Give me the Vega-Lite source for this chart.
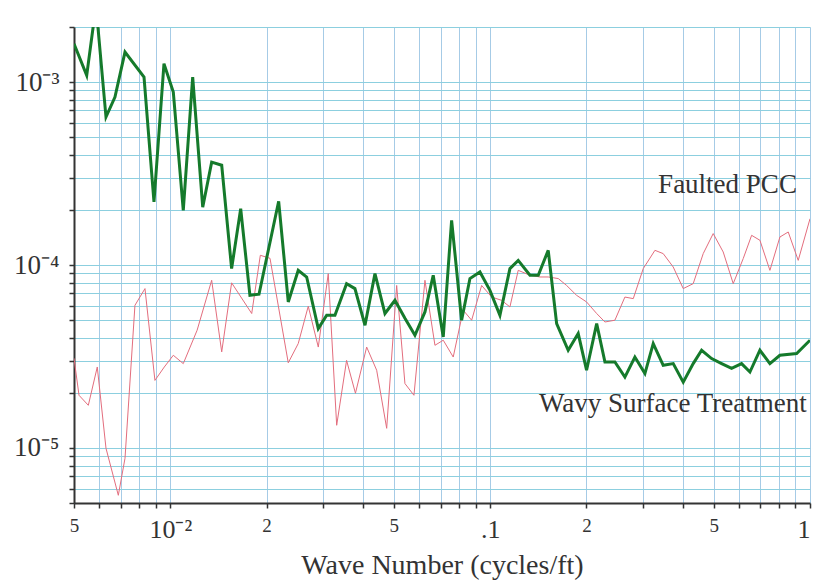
{
  "$schema": "https://vega.github.io/schema/vega-lite/v6.json",
  "width": 736,
  "height": 476,
  "autosize": {"type": "none"},
  "padding": {"left": 74, "top": 27, "right": 4, "bottom": 78},
  "background": "white",
  "config": {
    "view": {"stroke": null},
    "font": "Liberation Serif"
  },
  "datasets": {
    "pcc": [
      {"k": 0.005, "v": 3.09e-5}, {"k": 0.005184, "v": 1.94e-5}, {"k": 0.005543, "v": 1.71e-5}, {"k": 0.005912, "v": 2.77e-5},
      {"k": 0.006295, "v": 9.96e-6}, {"k": 0.006879, "v": 5.51e-6}, {"k": 0.007218, "v": 8.78e-6}, {"k": 0.007754, "v": 6.02e-5},
      {"k": 0.008334, "v": 7.43e-5}, {"k": 0.008953, "v": 2.34e-5}, {"k": 0.009578, "v": 2.77e-5}, {"k": 0.01022, "v": 3.21e-5},
      {"k": 0.01098, "v": 2.89e-5}, {"k": 0.01213, "v": 4.40e-5}, {"k": 0.01347, "v": 8.25e-5}, {"k": 0.01448, "v": 3.35e-5},
      {"k": 0.01555, "v": 7.99e-5}, {"k": 0.01797, "v": 5.43e-5}, {"k": 0.01912, "v": 1.13e-4}, {"k": 0.0205, "v": 1.088e-4},
      {"k": 0.02338, "v": 2.92e-5}, {"k": 0.02512, "v": 3.72e-5}, {"k": 0.027, "v": 5.95e-5}, {"k": 0.02902, "v": 3.56e-5},
      {"k": 0.03118, "v": 8.97e-5}, {"k": 0.03313, "v": 1.33e-5}, {"k": 0.03558, "v": 3.01e-5}, {"k": 0.03792, "v": 1.99e-5},
      {"k": 0.04111, "v": 3.56e-5}, {"k": 0.04418, "v": 2.66e-5}, {"k": 0.04748, "v": 1.28e-5}, {"k": 0.05102, "v": 7.73e-5},
      {"k": 0.05415, "v": 2.25e-5}, {"k": 0.05778, "v": 1.94e-5}, {"k": 0.06254, "v": 8.25e-5}, {"k": 0.06721, "v": 3.64e-5},
      {"k": 0.07135, "v": 3.88e-5}, {"k": 0.07666, "v": 3.14e-5}, {"k": 0.08237, "v": 5.66e-5}, {"k": 0.08753, "v": 4.99e-5},
      {"k": 0.09406, "v": 7.73e-5}, {"k": 0.1011, "v": 6.68e-5}, {"k": 0.1086, "v": 6.41e-5}, {"k": 0.1153, "v": 5.90e-5},
      {"k": 0.1224, "v": 9.35e-5}, {"k": 0.1332, "v": 8.79e-5}, {"k": 0.1431, "v": 8.60e-5}, {"k": 0.1519, "v": 8.60e-5},
      {"k": 0.1633, "v": 8.43e-5}, {"k": 0.1734, "v": 7.73e-5}, {"k": 0.1863, "v": 6.83e-5}, {"k": 0.2002, "v": 6.28e-5},
      {"k": 0.2153, "v": 5.43e-5}, {"k": 0.2285, "v": 4.88e-5}, {"k": 0.2455, "v": 4.99e-5}, {"k": 0.2638, "v": 6.68e-5},
      {"k": 0.2802, "v": 6.55e-5}, {"k": 0.3011, "v": 9.56e-5}, {"k": 0.3275, "v": 1.203e-4}, {"k": 0.3476, "v": 1.154e-4},
      {"k": 0.3736, "v": 9.75e-5}, {"k": 0.4015, "v": 7.43e-5}, {"k": 0.4314, "v": 7.91e-5}, {"k": 0.4636, "v": 1.154e-4},
      {"k": 0.4982, "v": 1.485e-4}, {"k": 0.5354, "v": 1.178e-4}, {"k": 0.5754, "v": 7.91e-5}, {"k": 0.6183, "v": 1.084e-4},
      {"k": 0.6569, "v": 1.453e-4}, {"k": 0.6973, "v": 1.365e-4}, {"k": 0.7493, "v": 9.35e-5}, {"k": 0.8052, "v": 1.422e-4},
      {"k": 0.8549, "v": 1.515e-4}, {"k": 0.9187, "v": 1.06e-4}, {"k": 1.0, "v": 1.79e-4}
    ],
    "wavy": [
      {"k": 0.005, "v": 1.62e-3}, {"k": 0.005479, "v": 1.088e-3}, {"k": 0.005858, "v": 2.62e-3}, {"k": 0.006295, "v": 6.44e-4},
      {"k": 0.006715, "v": 8.28e-4}, {"k": 0.007218, "v": 1.459e-3}, {"k": 0.008277, "v": 1.065e-3}, {"k": 0.008892, "v": 2.21e-4},
      {"k": 0.009556, "v": 1.26e-3}, {"k": 0.01022, "v": 8.82e-4}, {"k": 0.01098, "v": 1.99e-4}, {"k": 0.01175, "v": 1.065e-3},
      {"k": 0.01263, "v": 2.07e-4}, {"k": 0.01347, "v": 3.65e-4}, {"k": 0.01448, "v": 3.51e-4}, {"k": 0.01555, "v": 9.56e-5},
      {"k": 0.0166, "v": 2.03e-4}, {"k": 0.01774, "v": 6.83e-5}, {"k": 0.01894, "v": 6.92e-5}, {"k": 0.02182, "v": 2.23e-4},
      {"k": 0.02338, "v": 6.28e-5}, {"k": 0.02512, "v": 9.35e-5}, {"k": 0.02669, "v": 8.60e-5}, {"k": 0.02902, "v": 4.49e-5},
      {"k": 0.03083, "v": 5.31e-5}, {"k": 0.03272, "v": 5.31e-5}, {"k": 0.03558, "v": 7.91e-5}, {"k": 0.03778, "v": 7.43e-5},
      {"k": 0.04062, "v": 4.68e-5}, {"k": 0.04364, "v": 8.97e-5}, {"k": 0.0469, "v": 5.43e-5}, {"k": 0.05039, "v": 6.41e-5},
      {"k": 0.05415, "v": 5.11e-5}, {"k": 0.05819, "v": 4.13e-5}, {"k": 0.06254, "v": 5.54e-5}, {"k": 0.06638, "v": 8.79e-5},
      {"k": 0.07135, "v": 4.04e-5}, {"k": 0.07578, "v": 1.755e-4}, {"k": 0.08143, "v": 4.99e-5}, {"k": 0.08646, "v": 8.43e-5},
      {"k": 0.09291, "v": 9.16e-5}, {"k": 0.09985, "v": 7.27e-5}, {"k": 0.1073, "v": 5.31e-5}, {"k": 0.1153, "v": 9.56e-5},
      {"k": 0.1224, "v": 1.06e-4}, {"k": 0.1332, "v": 8.79e-5}, {"k": 0.1414, "v": 8.79e-5}, {"k": 0.1519, "v": 1.203e-4},
      {"k": 0.1614, "v": 4.78e-5}, {"k": 0.1754, "v": 3.42e-5}, {"k": 0.1885, "v": 4.22e-5}, {"k": 0.2002, "v": 2.66e-5},
      {"k": 0.2153, "v": 4.78e-5}, {"k": 0.2285, "v": 2.95e-5}, {"k": 0.2455, "v": 2.95e-5}, {"k": 0.2638, "v": 2.44e-5},
      {"k": 0.2835, "v": 3.14e-5}, {"k": 0.3047, "v": 2.55e-5}, {"k": 0.3235, "v": 3.72e-5}, {"k": 0.3476, "v": 2.83e-5},
      {"k": 0.3736, "v": 2.89e-5}, {"k": 0.4015, "v": 2.29e-5}, {"k": 0.4314, "v": 2.89e-5}, {"k": 0.4583, "v": 3.42e-5},
      {"k": 0.4925, "v": 3.08e-5}, {"k": 0.5293, "v": 2.89e-5}, {"k": 0.5687, "v": 2.72e-5}, {"k": 0.6111, "v": 2.89e-5},
      {"k": 0.6489, "v": 2.60e-5}, {"k": 0.6973, "v": 3.42e-5}, {"k": 0.7493, "v": 2.89e-5}, {"k": 0.8052, "v": 3.21e-5},
      {"k": 0.9082, "v": 3.28e-5}, {"k": 1.0, "v": 3.88e-5}
    ],
    "notes": [
      {"k": 0.91, "v": 2.74e-4, "label": "Faulted PCC"},
      {"k": 0.977, "v": 1.73e-5, "label": "Wavy Surface Treatment"}
    ]
  },
  "encoding": {
    "x": {
      "field": "k", "type": "quantitative",
      "scale": {"type": "log", "domain": [0.005, 1], "nice": false},
      "axis": {
        "title": "Wave Number (cycles/ft)",
        "titleFont": "Liberation Serif", "titleFontSize": 28, "titleFontWeight": "normal", "titleColor": "#333333", "titlePadding": 9,
        "values": [0.005, 0.006, 0.007, 0.008, 0.009, 0.01, 0.02, 0.03, 0.04, 0.05, 0.06, 0.07, 0.08, 0.09, 0.1, 0.2, 0.3, 0.4, 0.5, 0.6, 0.7, 0.8, 0.9, 1],
        "labelExpr": "datum.value==0.005?'5':datum.value==0.01?'10⁻²':datum.value==0.02?'2':datum.value==0.05?'5':datum.value==0.1?'.1':datum.value==0.2?'2':datum.value==0.5?'5':datum.value==1?'1':''",
        "labelFont": "Liberation Serif",
        "labelFontSize": {"condition": {"test": "datum.value==0.01||datum.value==0.1||datum.value==1", "value": 26}, "value": 19},
        "labelAlign": {"condition": {"test": "datum.value==1", "value": "right"}, "value": "center"},
        "labelColor": "#333333", "labelFlush": false, "labelPadding": 8, "labelOverlap": false,
        "domainColor": "#333333", "domainWidth": 2,
        "tickColor": "#333333", "tickSize": 5, "tickWidth": 1.5,
        "grid": true, "gridColor": "#a6cbe6", "gridWidth": 1
      }
    },
    "y": {
      "field": "v", "type": "quantitative",
      "scale": {"type": "log", "domain": [5e-6, 2e-3], "nice": false},
      "axis": {
        "title": null,
        "values": [5e-6, 6e-6, 7e-6, 8e-6, 9e-6, 1e-5, 2e-5, 3e-5, 4e-5, 5e-5, 6e-5, 7e-5, 8e-5, 9e-5, 1e-4, 2e-4, 3e-4, 4e-4, 5e-4, 6e-4, 7e-4, 8e-4, 9e-4, 1e-3, 2e-3],
        "labelExpr": "datum.value==0.001?'10⁻³':datum.value==0.0001?'10⁻⁴':datum.value==0.00001?'10⁻⁵':''",
        "labelFont": "Liberation Serif", "labelFontSize": 27, "labelColor": "#333333", "labelPadding": 10, "labelOverlap": false,
        "labelBaseline": "middle", "labelFlush": false,
        "domainColor": "#333333", "domainWidth": 2,
        "tickColor": "#333333", "tickSize": 5, "tickWidth": 1.5,
        "grid": true, "gridColor": "#8ccfdf", "gridWidth": 1
      }
    }
  },
  "layer": [
    {
      "data": {"name": "pcc"},
      "mark": {"type": "line", "color": "#e36d7d", "strokeWidth": 1, "clip": true}
    },
    {
      "data": {"name": "wavy"},
      "mark": {"type": "line", "color": "#157a2b", "strokeWidth": 3, "clip": true}
    },
    {
      "data": {"name": "notes"},
      "mark": {"type": "text", "align": "right", "baseline": "middle", "font": "Liberation Serif", "fontSize": 27, "color": "#333333"},
      "encoding": {"text": {"field": "label"}}
    }
  ]
}
